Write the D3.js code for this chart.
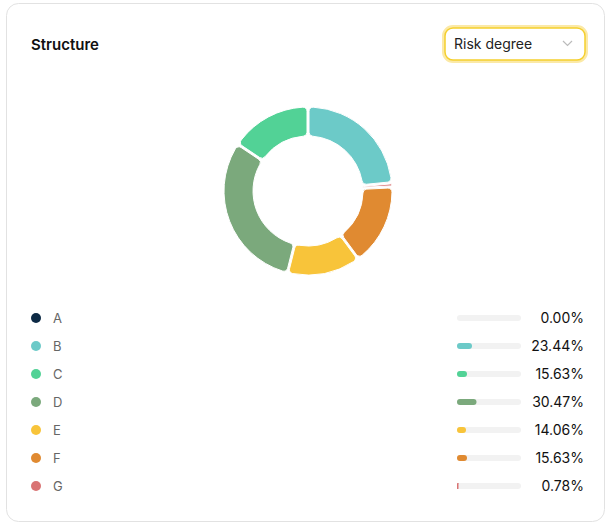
<!DOCTYPE html>
<html><head><meta charset="utf-8">
<script src="https://cdn.jsdelivr.net/npm/d3@7"></script>
<style>body{margin:0;background:#fff;font-family:Inter,"Noto Sans",sans-serif;}</style>
</head><body><div id="chart"></div>
<script>
const categories = ["A", "B", "C", "D", "E", "F", "G"];
const values = [0.00, 23.44, 15.63, 30.47, 14.06, 15.63, 0.78];
const colors = ["#0d2a45", "#6ccac8", "#52d296", "#7ba97c", "#f8c43a", "#e08a31", "#d97373"];

const svg = d3.select("#chart").append("svg").attr("width", 612).attr("height", 528);

// card
svg.append("rect").attr("x", 6.5).attr("y", 3.5).attr("width", 598).attr("height", 518)
  .attr("rx", 12).attr("fill", "#fff").attr("stroke", "#e2e2e2");
svg.append("text").attr("x", 31).attr("y", 50).text("Structure")
  .attr("font-size", 15).attr("font-weight", 600).attr("fill", "#111");

// dropdown
svg.append("rect").attr("x", 444).attr("y", 27).attr("width", 142).attr("height", 34).attr("rx", 9)
  .attr("fill", "none").attr("stroke", "#fbe9a6").attr("stroke-width", 4);
svg.append("rect").attr("x", 445).attr("y", 28).attr("width", 140).attr("height", 32).attr("rx", 8)
  .attr("fill", "#fff").attr("stroke", "#f5cf2e").attr("stroke-width", 1.5);
svg.append("text").attr("x", 454).attr("y", 49).text("Risk degree").attr("font-size", 14).attr("fill", "#222");
svg.append("path").attr("d", "M563,41 l4.5,4.5 l4.5,-4.5").attr("fill", "none").attr("stroke", "#bbb").attr("stroke-width", 1.2);

// donut
const start = 2 * Math.PI * values[1] / 100;
const pie = d3.pie().sort(null).startAngle(start).endAngle(start - 2 * Math.PI);
const arc = d3.arc().innerRadius(55).outerRadius(84).cornerRadius(4).padAngle(0.02);
const g = svg.append("g").attr("transform", "translate(308,191)");
g.selectAll("path").data(pie(values)).join("path")
  .attr("d", arc).attr("fill", (d, i) => colors[i])
  .attr("stroke", "#fff").attr("stroke-width", (d, i) => values[i] > 0 ? 1 : 0);

// legend
const y = d3.scalePoint().domain(categories).range([318, 486]);
const x = d3.scaleLinear().domain([0, 100]).range([0, 64]);
const rows = svg.selectAll(".row").data(categories).join("g").attr("class", "row")
  .attr("transform", d => `translate(0,${y(d)})`);
rows.append("circle").attr("cx", 36).attr("r", 5).attr("fill", (d, i) => colors[i]);
rows.append("text").attr("x", 53).attr("y", 5).text(d => d).attr("font-size", 13).attr("fill", "#666");
rows.append("rect").attr("x", 457).attr("y", -3).attr("width", 64).attr("height", 6).attr("rx", 3).attr("fill", "#f2f2f2");
rows.append("rect").attr("x", 457).attr("y", -3).attr("width", (d, i) => Math.max(x(values[i]), values[i] > 0 ? 1.5 : 0))
  .attr("height", 6).attr("rx", (d, i) => Math.min(3, x(values[i]) / 2)).attr("fill", (d, i) => colors[i]);
rows.append("text").attr("x", 584).attr("y", 5).attr("text-anchor", "end")
  .text((d, i) => values[i].toFixed(2) + "%").attr("font-size", 14).attr("fill", "#111");
</script></body></html>
